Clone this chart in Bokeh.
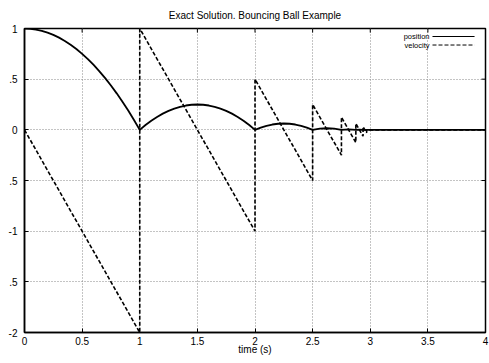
from bokeh.plotting import figure
from bokeh.models import FixedTicker, Range1d, Label
from bokeh.embed import file_html
from bokeh.resources import INLINE

FONT = "Liberation Sans"

TITLE = "Exact Solution. Bouncing Ball Example"

# position of the ball
pos_t = [0, 0.05, 0.1, 0.15, 0.2, 0.25, 0.3, 0.35, 0.4, 0.45, 0.5, 0.55, 0.6, 0.65, 0.7, 0.75,
         0.8, 0.85, 0.9, 0.95, 1.0,
         1.05, 1.1, 1.15, 1.2, 1.25, 1.3, 1.35, 1.4, 1.45, 1.5, 1.55, 1.6, 1.65, 1.7, 1.75,
         1.8, 1.85, 1.9, 1.95, 2.0,
         2.05, 2.1, 2.15, 2.2, 2.25, 2.3, 2.35, 2.4, 2.45, 2.5,
         2.5625, 2.625, 2.6875, 2.75,
         2.8125, 2.875, 2.90625, 2.9375, 3.0, 4.0]
pos_y = [1, 0.9975, 0.99, 0.9775, 0.96, 0.9375, 0.91, 0.8775, 0.84, 0.7975, 0.75, 0.6975, 0.64,
         0.5775, 0.51, 0.4375, 0.36, 0.2775, 0.19, 0.0975, 0,
         0.0475, 0.09, 0.1275, 0.16, 0.1875, 0.21, 0.2275, 0.24, 0.2475, 0.25, 0.2475, 0.24,
         0.2275, 0.21, 0.1875, 0.16, 0.1275, 0.09, 0.0475, 0,
         0.0225, 0.04, 0.0525, 0.06, 0.0625, 0.06, 0.0525, 0.04, 0.0225, 0,
         0.0117, 0.0156, 0.0117, 0,
         0.0039, 0, 0.001, 0, 0, 0]

# velocity of the ball
vel_t = [0, 1, 1, 2, 2, 2.5, 2.5, 2.75, 2.75, 2.875, 2.875, 2.9375, 2.9375, 2.96875,
         2.96875, 3.0, 4.0]
vel_y = [0, -2, 1, -1, 0.5, -0.5, 0.25, -0.25, 0.125, -0.125, 0.0625, -0.0625, 0.03, -0.03,
         0, 0, 0]

x_ticks = [0, 0.5, 1, 1.5, 2, 2.5, 3, 3.5, 4]
x_tick_labels = ["0", "0.5", "1", "1.5", "2", "2.5", "3", "3.5", "4"]
y_ticks = [-2, -1.5, -1, -0.5, 0, 0.5, 1]
y_tick_labels = ["-2", ".5", "-1", ".5", "0", ".5", "1"]

series_names = ["position", "velocity"]

X_MIN, X_MAX, Y_MIN, Y_MAX = 0, 4, -2, 1

p = figure(width=489, height=363, output_backend="svg", toolbar_location=None,
           x_range=Range1d(X_MIN, X_MAX), y_range=Range1d(Y_MIN, Y_MAX),
           min_border_left=24, min_border_right=4, min_border_top=28, min_border_bottom=31,
           title=TITLE)

p.title.align = "center"
p.title.text_font = FONT
p.title.text_font_size = "10px"
p.title.text_font_style = "normal"
p.title.text_color = "black"
p.title.standoff = 15

p.outline_line_color = "black"
p.outline_line_width = 1.5
p.outline_line_alpha = 1.0
p.background_fill_color = "white"
p.border_fill_color = "white"

for ax, ticks, labels in [(p.xaxis[0], x_ticks, x_tick_labels), (p.yaxis[0], y_ticks, y_tick_labels)]:
    ax.ticker = FixedTicker(ticks=ticks)
    ax.major_label_overrides = {t: l for t, l in zip(ticks, labels)}
    ax.major_label_text_font = FONT
    ax.major_label_text_font_size = "10px"
    ax.major_label_text_color = "black"
    ax.major_tick_in = 4
    ax.major_tick_out = 0
    ax.minor_tick_line_color = None
    ax.axis_line_color = "black"
    ax.axis_line_width = 1.5
    ax.major_tick_line_color = "black"

p.xaxis.major_label_standoff = 4
p.yaxis.major_label_standoff = 7
p.xaxis.axis_label = "time (s)"
p.xaxis.axis_label_text_font = FONT
p.xaxis.axis_label_text_font_size = "10px"
p.xaxis.axis_label_text_font_style = "normal"
p.xaxis.axis_label_text_color = "black"
p.xaxis.axis_label_standoff = -4

p.grid.grid_line_color = "#888888"
p.grid.grid_line_dash = "1 2"
p.grid.grid_line_width = 1
p.xgrid.ticker = FixedTicker(ticks=x_ticks)
p.ygrid.ticker = FixedTicker(ticks=y_ticks)

# mirrored inward ticks on the top and right frame edges (gnuplot style)
TICK_DY = 0.04   # about 4 px in y data units
TICK_DX = 0.035  # about 4 px in x data units
p.segment(x0=x_ticks, y0=[Y_MAX] * len(x_ticks), x1=x_ticks,
          y1=[Y_MAX - TICK_DY] * len(x_ticks), line_color="black", line_width=1)
p.segment(x0=[X_MAX] * len(y_ticks), y0=y_ticks, x1=[X_MAX - TICK_DX] * len(y_ticks),
          y1=y_ticks, line_color="black", line_width=1)

p.line(pos_t, pos_y, line_color="black", line_width=1.8)
p.line(vel_t, vel_y, line_color="black", line_width=1.6, line_dash="4 2")

# legend (gnuplot style: label on the left, sample on the right)
LX_TEXT, LX0, LX1 = 3.514, 3.54, 3.905
LY = [0.921, 0.837]
dashes = ["solid", "4 2"]
for name, ly, dash in zip(series_names, LY, dashes):
    p.add_layout(Label(x=LX_TEXT, y=ly, text=name, text_align="right", text_baseline="middle",
                       text_font=FONT, text_font_size="7.5px", text_color="black"))
    p.segment(x0=[LX0], y0=[ly], x1=[LX1], y1=[ly], line_color="black", line_width=1,
              line_dash=dash)

open("out.html", "w").write(file_html(p, INLINE))
